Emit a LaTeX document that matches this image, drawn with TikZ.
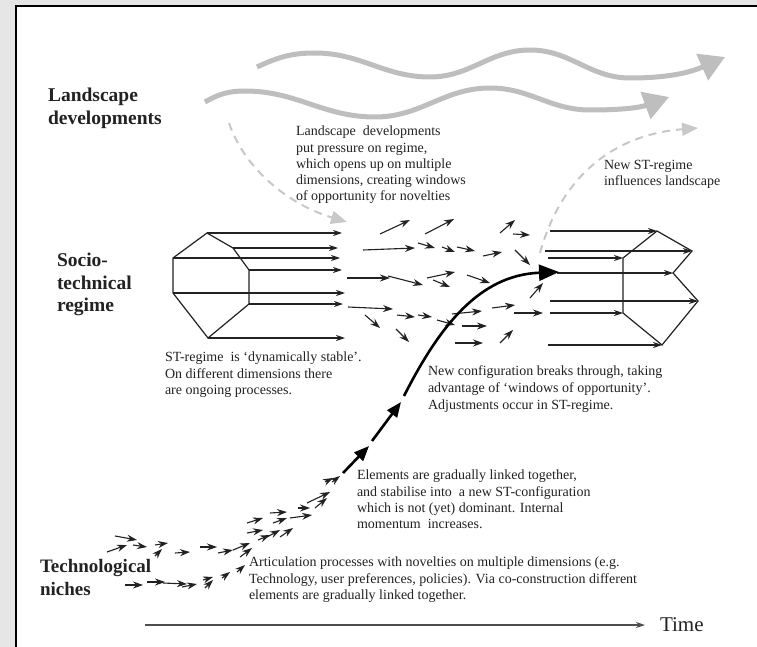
\documentclass[tikz,border=0pt]{standalone}
\usepackage{fontspec}
\setmainfont{Liberation Serif}
\usetikzlibrary{arrows.meta,positioning}

\definecolor{bggray}{HTML}{E6E6E6}
\definecolor{wavegray}{HTML}{BEBEBE}
\definecolor{dashgray}{HTML}{C8C8C8}
\definecolor{ink}{HTML}{222222}

\begin{document}
\begin{tikzpicture}[x=1pt,y=1pt]
                        \tikzstyle{every node}=[inner sep=0,outer sep=0,text=ink]
                        \tikzstyle{note}=[font=\fontsize{14}{16.3}\selectfont,align=left,anchor=north west]
                        \tikzstyle{level}=[font=\fontsize{19.5}{22.5}\selectfont\bfseries,align=left,anchor=north west]
                        \tikzstyle{wave}=[draw=wavegray,line width=5,-{Triangle[length=25,width=28]}]
                        \tikzstyle{hint}=[draw=dashgray,line width=2,dash pattern=on 8 off 6,-{Triangle[length=16,width=13]}]
                        \tikzstyle{move}=[draw=ink,line width=1.1,-{Stealth[length=10,width=7]}]
                        \tikzstyle{flow}=[draw=ink,line width=1.2,-{Stealth[length=9,width=6]}]
                        \tikzstyle{growth}=[draw=black,line width=2.6]
                        {
                            \useasboundingbox (0,0) rectangle (757,-647);
                            \fill[bggray] (0,0) rectangle (757,-647);
                            \fill[white] (15,-5) rectangle (757,-647);
                            \draw[black,line width=2] (16,-647) -- (16,-6) -- (757,-6);

                            % levels
                            \node[level] (land) at (48,-88) {Landscape\\developments};
                            \node[level] (socio) at (57,-253) {Socio-\\technical\\regime};
                            \node[level,font=\fontsize{19}{23}\selectfont\bfseries] (niche) at (40,-559) {Technological\\niches};

                            % landscape waves
                            \draw[wave] (257,-67) to[out=25,in=180] (315,-53) to[out=0,in=180] (430,-77)
                                to[out=0,in=180] (530,-50) to[out=0,in=180] (630,-78) to[out=0,in=204] (725,-57);
                            \draw[wave] (205,-102) to[out=30,in=180] (245,-91) to[out=0,in=180] (375,-117)
                                to[out=0,in=180] (490,-88) to[out=0,in=180] (590,-110) to[out=0,in=200] (669,-97);

                            \coordinate (d0) at (229,-123);
                            \coordinate (d1) at (347,-222);
                            \coordinate (d2) at (540,-253);
                            \coordinate (d3) at (698,-128);
                            \draw[hint] (d0) .. controls (245,-170) and (290,-205) .. (d1);
                            \draw[hint] (d2) .. controls (560,-180) and (610,-135) .. (d3);

                            % old regime
                            \coordinate (ga) at (207,-233);
                            \coordinate (gb) at (233,-248);
                            \coordinate (gc) at (249,-270);
                            \coordinate (gd) at (249,-304);
                            \coordinate (ge) at (208,-338);
                            \coordinate (gf) at (173,-293);
                            \coordinate (gg) at (173,-258);
                            \draw[ink,line width=1.2] (ga) -- (gb) -- (gc) -- (gd) -- (ge) -- (gf) -- (gg) -- cycle;
                            \foreach \v/\len in {ga/135,gb/105,gg/167,gc/93,gf/172,gd/94,ge/137} {
                                \draw[flow] (\v) -- ++(\len,0);
                            }

                            % new regime
                            \coordinate (ha) at (657,-231);
                            \coordinate (hb) at (692,-251);
                            \coordinate (hc) at (673,-273);
                            \coordinate (hd) at (698,-301);
                            \coordinate (he) at (662,-345);
                            \coordinate (hf) at (623,-313);
                            \coordinate (hg) at (623,-258);
                            \draw[ink,line width=1.2] (ha) -- (hb) -- (hc) -- (hd) -- (he) -- (hf) -- (hg) -- cycle;
                            \foreach \v/\len in {ha/107,hb/147,hg/75,hc/116,hd/148,hf/73,he/114} {
                                \draw[flow] (\v) ++(-\len,0) -- (\v);
                            }

                            % windows of opportunity
                            \foreach \a/\b/\c/\d in {380/234/410/220, 425/234/454/219, 363/250/415/248, 418/243/435/248,
                                    442/247/455/252, 457/247/475/251, 483/256/502/252, 500/233/515/220, 513/234/530/235,
                                    515/250/530/265, 347/278/390/278, 388/276/423/285, 427/278/455/272, 433/280/450/287,
                                    467/275/490/283, 530/298/543/283, 348/307/393/309, 365/315/380/328, 397/315/415/317,
                                    418/315/432/317, 437/320/455/325, 452/314/482/311, 462/326/487/326, 492/308/515/305,
                                    514/313/543/313, 396/329/409/342, 455/343/483/343, 500/343/513/330} {
                                \draw[move] (\a,-\b) -- (\c,-\d);
                            }

                            % niche
                            \foreach \a/\b/\c/\d in {115/536/137/540, 107/552/127/545, 133/545/147/547, 155/545/168/543,
                                    155/556/162/549, 175/553/190/552, 200/547/217/547, 218/553/233/550, 233/550/250/543,
                                    240/557/252/548, 247/533/263/530, 247/523/263/518, 258/540/270/535, 267/537/280/530,
                                    280/537/293/528, 270/513/287/512, 273/523/287/518, 290/518/312/515, 298/508/310/508,
                                    307/503/330/492, 315/508/327/498, 325/482/333/478, 332/482/340/476,
                                    125/585/143/585, 147/582/165/582, 163/583/187/584, 182/587/197/584, 203/580/213/577,
                                    205/588/213/580, 222/578/230/572, 237/572/245/565} {
                                \draw[move] (\a,-\b) -- (\c,-\d);
                            }

                            % break through
                            \coordinate (g0) at (343,-473);
                            \coordinate (g1) at (369,-446);
                            \coordinate (g2) at (372,-441);
                            \coordinate (g3) at (401,-402);
                            \coordinate (g4) at (404,-396);
                            \coordinate (g5) at (559,-272);
                            \draw[growth,-{Triangle[length=15,width=12]}] (g0) -- (g1);
                            \draw[growth,-{Triangle[length=15,width=12]}] (g2) -- (g3);
                            \draw[growth,-{Triangle[length=20,width=16]}] (g4) .. controls (440,-325) and (480,-275) .. (g5);

                            % texts
                            \node[note] (pressure) at (296,-126) {Landscape~ developments\\put pressure on regime,\\which opens up on multiple\\dimensions, creating windows\\of opportunity for novelties};
                            \node[note] (influence) at (604,-160) {New ST-regime\\influences landscape};
                            \node[note] (stable) at (165,-352) {ST-regime~ is `dynamically stable'.\\On different dimensions there\\are ongoing processes.};
                            \node[note,font=\fontsize{14}{17}\selectfont] (breaks) at (428,-366) {New configuration breaks through, taking\\advantage of `windows of opportunity'.\\Adjustments occur in ST-regime.};
                            \node[note] (linked) at (357,-470) {Elements are gradually linked together,\\and stabilise into~ a new ST-configuration\\which is not (yet) dominant. Internal\\momentum~ increases.};
                            \node[note] (artic) at (249,-557) {Articulation processes with novelties on multiple dimensions (e.g.\\Technology, user preferences, policies). Via co-construction different\\elements are gradually linked together.};

                            % time axis
                            \node[anchor=west,font=\fontsize{21}{24}\selectfont] (time) at (660,-625) {Time};
                            \coordinate (t0) at (145,-625);
                            \draw[flow,draw=ink!80,line width=1.3] (t0) -- ([xshift=-15]time.west);
                        }
                    \end{tikzpicture}
\end{document}
